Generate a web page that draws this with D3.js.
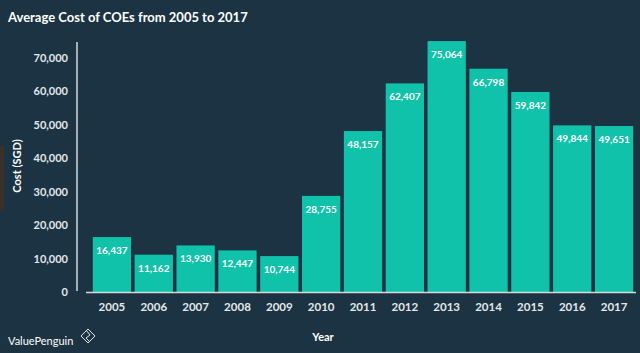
<!DOCTYPE html>
<meta charset="utf-8">
<style>
body { margin: 0; background: #1b3342; }
text { font-family: "Lato", "Open Sans", sans-serif; }
</style>
<svg width="640" height="353"></svg>
<script src="https://d3js.org/d3.v7.min.js"></script>
<script>

var years = ["2005","2006","2007","2008","2009","2010","2011","2012","2013","2014","2015","2016","2017"];
var costs = [16437, 11162, 13930, 12447, 10744, 28755, 48157, 62407, 75064, 66798, 59842, 49844, 49651];
var yTicks = [0, 10000, 20000, 30000, 40000, 50000, 60000, 70000];

var svg = d3.select("svg"),
    width = +svg.attr("width"),
    height = +svg.attr("height");

svg.append("rect").attr("width", width).attr("height", height).attr("fill", "#1b3342");

// little brown strip on the left edge
svg.append("rect").attr("x", 0).attr("y", 146).attr("width", 4).attr("height", 65).attr("fill", "#3b3029");

var x = d3.scaleBand()
    .domain(years)
    .range([91, 635])
    .paddingInner(0.085)
    .paddingOuter(0.0425);

var y = d3.scaleLinear()
    .domain([0, 70000])
    .range([292, 58]);

var fmt = d3.format(",");

// title
svg.append("text")
    .attr("x", 8).attr("y", 22)
    .attr("fill", "#ffffff")
    .style("font-size", "13px").style("font-weight", "bold")
    .text("Average Cost of COEs from 2005 to 2017");

// y axis
var yAxis = svg.append("g")
    .attr("transform", "translate(77,0)")
    .call(d3.axisLeft(y).tickValues(yTicks).tickFormat(fmt).tickSize(0).tickPadding(9));
yAxis.select(".domain").attr("d", "M0,42V291").attr("stroke", "#d5dadd").attr("stroke-width", 1.5);
yAxis.selectAll("text").attr("fill", "#e4e8ea").style("font-size", "11px").style("font-family", "Lato, sans-serif").style("font-weight", "bold");

svg.append("text")
    .attr("transform", "translate(21,166) rotate(-90)")
    .attr("text-anchor", "middle")
    .attr("fill", "#ffffff")
    .style("font-size", "11px").style("font-weight", "bold")
    .text("Cost (SGD)");

// bars
svg.selectAll("rect.bar")
    .data(costs)
    .enter().append("rect")
    .attr("class", "bar")
    .attr("x", function(d, i) { return x(years[i]); })
    .attr("y", function(d) { return y(d); })
    .attr("width", x.bandwidth())
    .attr("height", function(d) { return y(0) - y(d); })
    .attr("fill", "#10c2aa");

svg.selectAll("text.val")
    .data(costs)
    .enter().append("text")
    .attr("class", "val")
    .attr("x", function(d, i) { return x(years[i]) + x.bandwidth() / 2; })
    .attr("y", function(d) { return y(d) + 17; })
    .attr("text-anchor", "middle")
    .attr("fill", "#ffffff")
    .style("font-size", "10px").style("font-weight", "bold")
    .text(function(d) { return fmt(d); });

// x axis
var xAxis = svg.append("g")
    .attr("transform", "translate(0,292.5)")
    .call(d3.axisBottom(x).tickSize(0).tickPadding(10));
xAxis.select(".domain").attr("d", "M86,0H636").attr("stroke", "#d5dadd").attr("stroke-width", 1.5);
xAxis.selectAll("text").attr("fill", "#e4e8ea").style("font-size", "11.5px").style("font-family", "Lato, sans-serif").style("font-weight", "bold");

svg.append("text")
    .attr("x", 323).attr("y", 341)
    .attr("text-anchor", "middle")
    .attr("fill", "#ffffff")
    .style("font-size", "11px").style("font-weight", "bold")
    .text("Year");

// logo
svg.append("text")
    .attr("x", 8).attr("y", 345)
    .attr("fill", "#ffffff")
    .style("font-size", "11px")
    .text("ValuePenguin");
var logo = svg.append("g").attr("transform", "translate(88,336)").attr("fill", "none").attr("stroke", "#dfe4e6").attr("stroke-width", 1);
logo.append("path").attr("d", "M0,-7L7,0L0,7L-7,0Z");
logo.append("path").attr("d", "M-2,-6L2,-1L-2,2L2,6");

</script>
